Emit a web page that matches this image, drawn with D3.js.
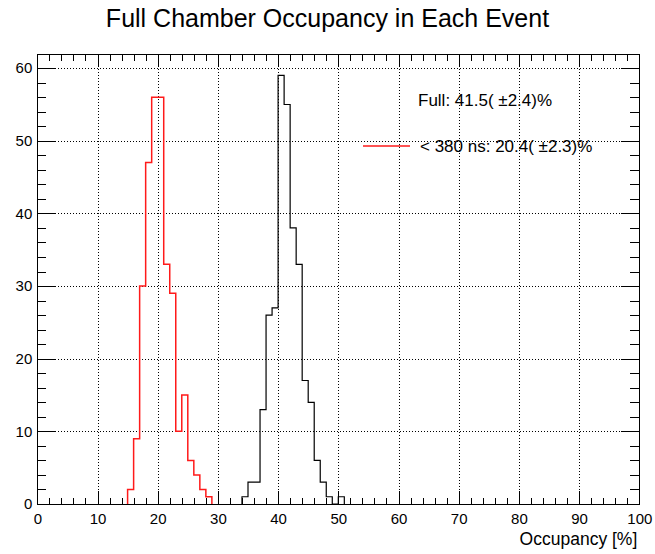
<!DOCTYPE html>
<html>
<head>
<meta charset="utf-8">
<script src="https://cdn.jsdelivr.net/npm/d3@7"></script>
<style>
  html, body { margin: 0; padding: 0; background: #fff; }
  svg { display: block; }
  text { font-family: "Liberation Sans", Arial, Helvetica, sans-serif; fill: #000; }
</style>
</head>
<body>
<svg id="chart" width="655" height="554"></svg>
<script>
// Occupancy histograms, 1%-wide bins (lower bin edge, entries)
const fullBins   = [34, 35, 36, 37, 38, 39, 40, 41, 42, 43, 44, 45, 46, 47, 48, 49, 50];
const fullCounts = [ 1,  3,  3, 13, 26, 27, 59, 55, 38, 33, 17, 14,  6,  3,  1,  0,  1];

const fastBins   = [15, 16, 17, 18, 19, 20, 21, 22, 23, 24, 25, 26, 27, 28];
const fastCounts = [ 2,  9, 30, 47, 56, 56, 33, 29, 10, 15,  6,  4,  2,  1];

const xMajorTicks = [0, 10, 20, 30, 40, 50, 60, 70, 80, 90, 100];
const yMajorTicks = [0, 10, 20, 30, 40, 50, 60];

const legendLabels = ["Full: 41.5( \u00B12.4)%", "< 380 ns: 20.4( \u00B12.3)%"];
const titleText = "Full Chamber Occupancy in Each Event";
const xTitle = "Occupancy [%]";

const binWidth = 1;
const xDomain = [0, 100];
const yMax = d3.max(fullCounts.concat(fastCounts)) * 1.05;

const frame = { left: 37.3, right: 639.3, top: 54, bottom: 504 };
const svg = d3.select("#chart");

const x = d3.scaleLinear().domain(xDomain).range([frame.left, frame.right]);
const y = d3.scaleLinear().domain([0, yMax]).range([frame.bottom, frame.top]);

const xMinorTicks = d3.range(0, 100.001, 2).filter(v => v % 10 !== 0);
const yMinorTicks = d3.range(0, yMax, 2).filter(v => v % 10 !== 0);

// title
svg.append("text")
  .attr("x", 327.5).attr("y", 27)
  .attr("text-anchor", "middle")
  .style("font-size", "25px")
  .text(titleText);

// dotted grid
const grid = svg.append("g")
  .attr("stroke", "#000").attr("stroke-width", 1)
  .attr("stroke-dasharray", "1,2").attr("shape-rendering", "crispEdges");
grid.selectAll("line.gx").data(xMajorTicks.filter(v => v > 0 && v < 100)).join("line")
  .attr("class", "gx")
  .attr("x1", d => Math.round(x(d)) + 0.5).attr("x2", d => Math.round(x(d)) + 0.5)
  .attr("y1", frame.top).attr("y2", frame.bottom);
grid.selectAll("line.gy").data(yMajorTicks.filter(v => v > 0)).join("line")
  .attr("class", "gy")
  .attr("y1", d => Math.round(y(d)) + 0.5).attr("y2", d => Math.round(y(d)) + 0.5)
  .attr("x1", frame.left).attr("x2", frame.right);

// step outline of a histogram, closed down to zero at both ends
function stepPath(bins, counts) {
  const pts = [[bins[0], 0]];
  bins.forEach((b, i) => {
    pts.push([b, counts[i]]);
    pts.push([b + binWidth, counts[i]]);
  });
  pts.push([bins[bins.length - 1] + binWidth, 0]);
  return d3.line().x(p => x(p[0])).y(p => y(p[1]))(pts);
}

svg.append("path")
  .attr("d", stepPath(fullBins, fullCounts))
  .attr("fill", "none").attr("stroke", "#000").attr("stroke-width", 1.2);

svg.append("path")
  .attr("d", stepPath(fastBins, fastCounts))
  .attr("fill", "none").attr("stroke", "#ff1a1a").attr("stroke-width", 1.5);

// axes with ticks on all four sides
const majX = 13, minX = 6.5, majY = 18, minY = 9;
const fontSize = "15px";

function styleAxis(g) {
  g.select(".domain").remove();
  g.selectAll("line").attr("stroke", "#000").attr("shape-rendering", "crispEdges");
  g.selectAll("text").style("font-size", fontSize).attr("fill", "#000");
}

svg.append("g").attr("transform", `translate(0,${frame.bottom})`)
  .call(d3.axisBottom(x).tickValues(xMajorTicks).tickSize(-majX).tickPadding(9).tickFormat(d3.format("d")))
  .call(styleAxis);
svg.append("g").attr("transform", `translate(0,${frame.bottom})`)
  .call(d3.axisBottom(x).tickValues(xMinorTicks).tickSize(-minX).tickFormat(""))
  .call(styleAxis);
svg.append("g").attr("transform", `translate(0,${frame.top})`)
  .call(d3.axisTop(x).tickValues(xMajorTicks).tickSize(-majX).tickFormat(""))
  .call(styleAxis);
svg.append("g").attr("transform", `translate(0,${frame.top})`)
  .call(d3.axisTop(x).tickValues(xMinorTicks).tickSize(-minX).tickFormat(""))
  .call(styleAxis);

svg.append("g").attr("transform", `translate(${frame.left},0)`)
  .call(d3.axisLeft(y).tickValues(yMajorTicks).tickSize(-majY).tickPadding(5).tickFormat(d3.format("d")))
  .call(styleAxis);
svg.append("g").attr("transform", `translate(${frame.left},0)`)
  .call(d3.axisLeft(y).tickValues(yMinorTicks).tickSize(-minY).tickFormat(""))
  .call(styleAxis);
svg.append("g").attr("transform", `translate(${frame.right},0)`)
  .call(d3.axisRight(y).tickValues(yMajorTicks).tickSize(-majY).tickFormat(""))
  .call(styleAxis);
svg.append("g").attr("transform", `translate(${frame.right},0)`)
  .call(d3.axisRight(y).tickValues(yMinorTicks).tickSize(-minY).tickFormat(""))
  .call(styleAxis);

// frame
svg.append("rect")
  .attr("x", Math.round(frame.left) + 0.5).attr("y", frame.top + 0.5)
  .attr("width", Math.round(frame.right) - Math.round(frame.left))
  .attr("height", frame.bottom - frame.top)
  .attr("fill", "none").attr("stroke", "#000").attr("shape-rendering", "crispEdges");

// x axis title
svg.append("text")
  .attr("x", frame.right - 2).attr("y", 545)
  .attr("text-anchor", "end")
  .style("font-size", "17.5px")
  .text(xTitle);

// legend
const legend = svg.append("g");
legend.append("text").attr("x", 418).attr("y", 106).style("font-size", "17px").text(legendLabels[0]);
legend.append("line")
  .attr("x1", 363).attr("x2", 410).attr("y1", 146).attr("y2", 146)
  .attr("stroke", "#ff1a1a").attr("stroke-width", 1.5);
legend.append("text").attr("x", 420).attr("y", 152).style("font-size", "17px").text(legendLabels[1]);
</script>
</body>
</html>
